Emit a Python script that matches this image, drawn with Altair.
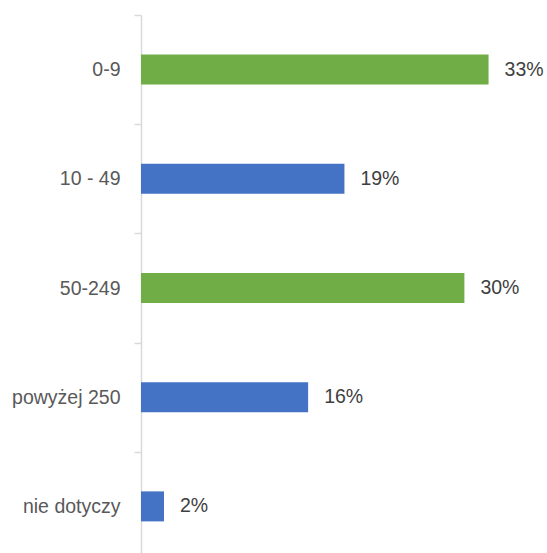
import altair as alt
import pandas as pd

categories = ["0-9", "10 - 49", "50-249", "powyżej 250", "nie dotyczy"]
values = [32.65, 19.11, 30.38, 15.70, 2.16]
bar_colors = ["#70AD47", "#4472C4", "#70AD47", "#4472C4", "#4472C4"]

df = pd.DataFrame({"category": categories, "value": values, "color": bar_colors})

FONT = "Liberation Sans, Arial, sans-serif"

y = alt.Y(
    "category:N", sort=categories, title=None,
    scale=alt.Scale(range=[0, 546], paddingInner=0, paddingOuter=0),
    axis=alt.Axis(tickBand="extent", tickSize=7, tickColor="#d9d9d9", tickWidth=1.5,
                  domainColor="#d9d9d9", domainWidth=1.5, labelPadding=14,
                  labelFont=FONT, labelFontSize=19.5, labelColor="#595959", grid=False),
)
x = alt.X("value:Q", title=None, axis=None,
          scale=alt.Scale(domain=[0, 38.14], nice=False, zero=True))

bars = alt.Chart(df).mark_bar(size=30).encode(
    x=x, y=y, color=alt.Color("color:N", scale=None)
)
labels = alt.Chart(df).transform_calculate(
    label="format(datum.value, '.0f') + '%'"
).mark_text(align="left", dx=16, font=FONT, fontSize=19.5, color="#404040").encode(
    x=x, y=y, text="label:N"
)

chart = alt.layer(bars, labels).properties(
    width=406, height=537,
    autosize=alt.AutoSizeParams(type="none"),
    padding={"left": 141, "top": 15, "right": 0, "bottom": 1},
).configure_view(stroke=None)

chart.save("out.html", embed_options={"renderer": "svg", "actions": False})
